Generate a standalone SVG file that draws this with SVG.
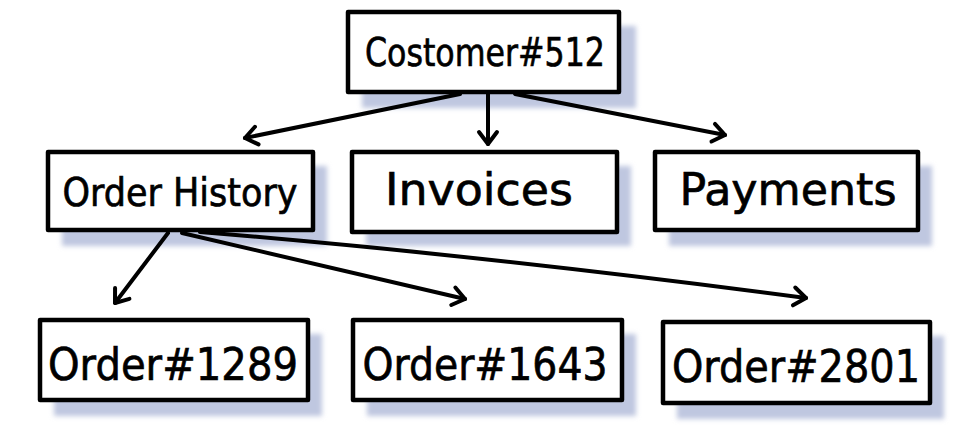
<svg xmlns="http://www.w3.org/2000/svg" width="974" height="446" viewBox="0 0 974 446">
<style>
.box{fill:#fff;stroke:#000;stroke-width:4.5;stroke-linejoin:round}
.sh{fill:#bfc7e0;filter:url(#blur)}
.lbl{font-family:"DejaVu Sans","Liberation Sans",sans-serif;fill:#000;stroke:#000;stroke-width:0.7;text-anchor:middle}
.edge{fill:none;stroke:#000;stroke-width:4;stroke-linecap:round;marker-end:url(#arr)}
</style>
<defs>
<filter id="blur" x="-10%" y="-20%" width="120%" height="140%"><feGaussianBlur stdDeviation="2.5"/></filter>
<marker id="arr" markerUnits="userSpaceOnUse" markerWidth="30" markerHeight="30" refX="15" refY="12" orient="auto" viewBox="0 0 30 24">
<path d="M3,3 L15,12 L3,21" fill="none" stroke="#000" stroke-width="4" stroke-linecap="round" stroke-linejoin="round"/>
</marker>
</defs>
<rect width="974" height="446" fill="#fff"/>
<g id="shadows">
<rect class="sh" x="362" y="26" width="274" height="82"/>
<rect class="sh" x="62" y="166" width="265" height="80"/>
<rect class="sh" x="366" y="166" width="265" height="80"/>
<rect class="sh" x="669" y="166" width="263" height="80"/>
<rect class="sh" x="54" y="334" width="268" height="82"/>
<rect class="sh" x="367" y="334" width="269" height="82"/>
<rect class="sh" x="677" y="336" width="267" height="83"/>
</g>
<g id="connectors">
<path class="edge" d="M460,94 L245,138"/>
<path class="edge" d="M488,94 L488,144"/>
<path class="edge" d="M515,94 L725,135"/>
<path class="edge" d="M168,233 L115,303"/>
<path class="edge" d="M182,233 L465,299"/>
<path class="edge" d="M200,232 Q480,255 806,298"/>
</g>
<g id="customer">
<rect class="box" x="348" y="12" width="271" height="80"/>
<text class="lbl" x="485" y="66" font-size="39" textLength="240" lengthAdjust="spacingAndGlyphs">Costomer#512</text>
</g>
<g id="order-history">
<rect class="box" x="48" y="152" width="265" height="78"/>
<text class="lbl" x="180" y="206" font-size="39" textLength="235" lengthAdjust="spacingAndGlyphs">Order History</text>
</g>
<g id="invoices">
<rect class="box" x="352" y="152" width="265" height="80"/>
<text class="lbl" x="479" y="205" font-size="45" textLength="188" lengthAdjust="spacingAndGlyphs">Invoices</text>
</g>
<g id="payments">
<rect class="box" x="655" y="152" width="263" height="78"/>
<text class="lbl" x="788" y="205" font-size="45" textLength="217" lengthAdjust="spacingAndGlyphs">Payments</text>
</g>
<g id="order1289">
<rect class="box" x="40" y="320" width="268" height="80"/>
<text class="lbl" x="173" y="380" font-size="45" textLength="250" lengthAdjust="spacingAndGlyphs">Order#1289</text>
</g>
<g id="order1643">
<rect class="box" x="353" y="320" width="269" height="80"/>
<text class="lbl" x="485" y="380" font-size="45" textLength="245" lengthAdjust="spacingAndGlyphs">Order#1643</text>
</g>
<g id="order2801">
<rect class="box" x="663" y="322" width="267" height="81"/>
<text class="lbl" x="796" y="382" font-size="45" textLength="248" lengthAdjust="spacingAndGlyphs">Order#2801</text>
</g>
</svg>
